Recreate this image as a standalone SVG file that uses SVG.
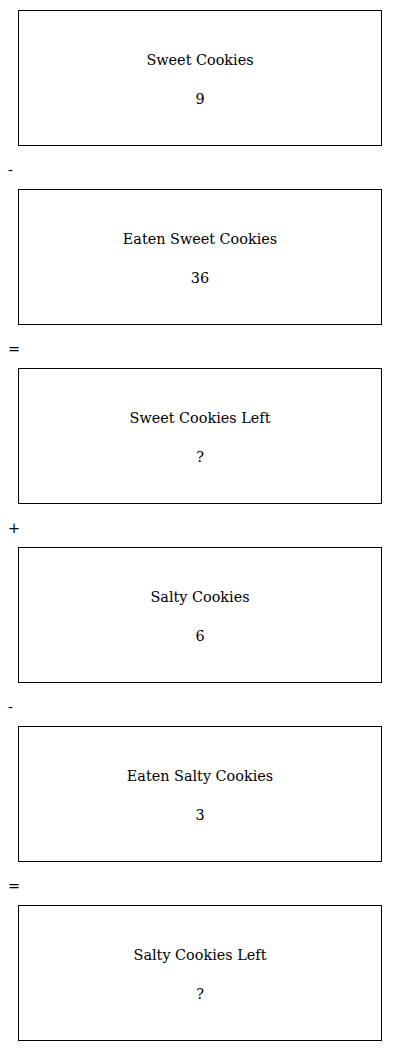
<svg xmlns="http://www.w3.org/2000/svg" width="400" height="1051" viewBox="0 0 400 1051">
<style>
.box{fill:#fff;stroke:#000;stroke-width:1}
text{font-family:"DejaVu Serif",serif;font-size:14.4px;fill:#000}
.c{text-anchor:middle}
</style>
<rect width="400" height="1051" fill="#fff"/>
<g id="n1"><rect class="box" x="18.5" y="10.5" width="363" height="135"/><text class="c" x="200" y="65">Sweet Cookies</text><text class="c" x="200" y="104">9</text></g>
<g id="n2"><rect class="box" x="18.5" y="189.5" width="363" height="135"/><text class="c" x="200" y="244">Eaten Sweet Cookies</text><text class="c" x="200" y="283">36</text></g>
<g id="n3"><rect class="box" x="18.5" y="368.5" width="363" height="135"/><text class="c" x="200" y="423">Sweet Cookies Left</text><text class="c" x="200" y="462">?</text></g>
<g id="n4"><rect class="box" x="18.5" y="547.5" width="363" height="135"/><text class="c" x="200" y="602">Salty Cookies</text><text class="c" x="200" y="641">6</text></g>
<g id="n5"><rect class="box" x="18.5" y="726.5" width="363" height="135"/><text class="c" x="200" y="781">Eaten Salty Cookies</text><text class="c" x="200" y="820">3</text></g>
<g id="n6"><rect class="box" x="18.5" y="905.5" width="363" height="135"/><text class="c" x="200" y="960">Salty Cookies Left</text><text class="c" x="200" y="999">?</text></g>
<g id="connectors">
<text x="8" y="175">-</text>
<text x="8" y="354">=</text>
<text x="8" y="533">+</text>
<text x="8" y="712">-</text>
<text x="8" y="891">=</text>
</g>
</svg>
